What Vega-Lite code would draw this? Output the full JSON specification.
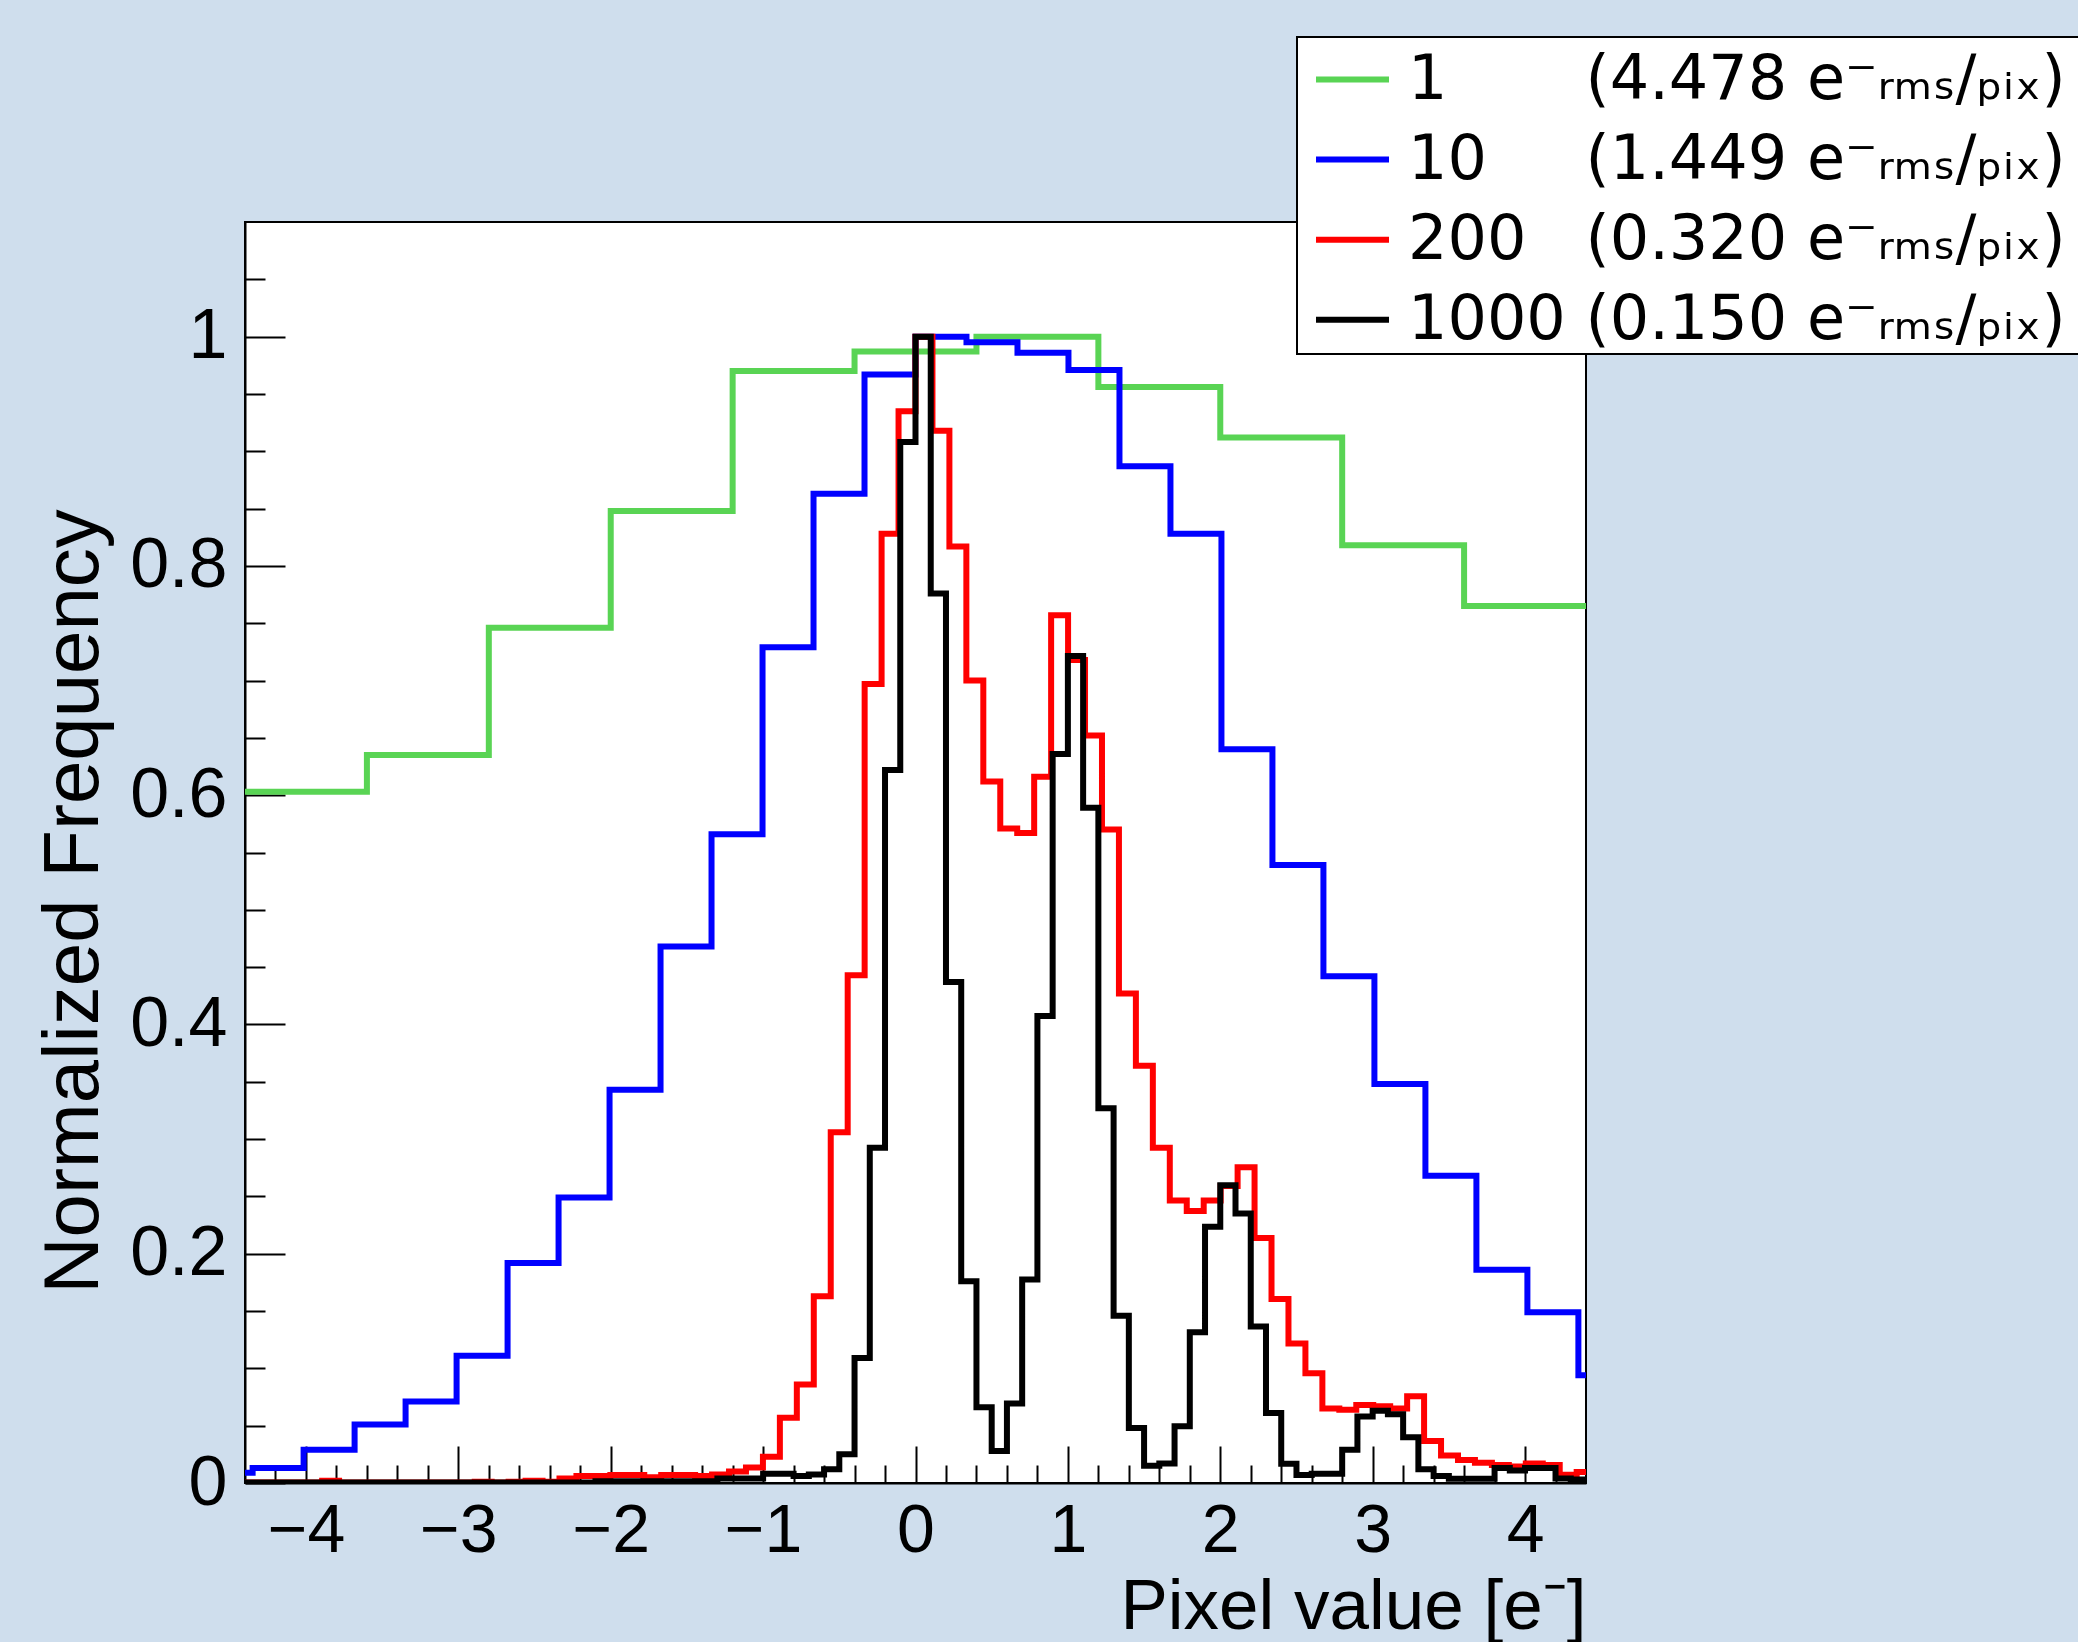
{
  "$schema": "https://vega.github.io/schema/vega-lite/v6.json",
  "width": 1341,
  "height": 1261,
  "autosize": {"type": "none"},
  "padding": {"left": 245, "top": 222, "right": 492, "bottom": 159},
  "background": "#cfdeed",
  "config": {
    "view": {"fill": "white", "stroke": "black", "strokeWidth": 2},
    "axis": {"grid": false, "domainColor": "black", "domainWidth": 2, "tickColor": "black", "tickWidth": 2, "labelColor": "black", "titleColor": "black", "labelFont": "Liberation Sans", "titleFont": "Liberation Sans", "titleFontWeight": "normal", "labelFlush": false, "labelOverlap": false}
  },
  "datasets": {
    "coarse": [
      {"s":"1","x":-4.4,"y":0.603},{"s":"1","x":-3.6,"y":0.635},{"s":"1","x":-2.8,"y":0.746},{"s":"1","x":-2.0,"y":0.848},{"s":"1","x":-1.2,"y":0.970},{"s":"1","x":-0.4,"y":0.987},{"s":"1","x":0.4,"y":1.0},{"s":"1","x":1.2,"y":0.956},{"s":"1","x":2.0,"y":0.912},{"s":"1","x":2.8,"y":0.818},{"s":"1","x":3.6,"y":0.765},{"s":"1","x":4.4,"y":0.765},
      {"s":"10","x":-4.6846,"y":0.009},{"s":"10","x":-4.35,"y":0.013},{"s":"10","x":-4.0154,"y":0.029},{"s":"10","x":-3.6808,"y":0.051},{"s":"10","x":-3.3462,"y":0.071},{"s":"10","x":-3.0115,"y":0.111},{"s":"10","x":-2.6769,"y":0.192},{"s":"10","x":-2.3423,"y":0.249},{"s":"10","x":-2.0077,"y":0.343},{"s":"10","x":-1.6731,"y":0.468},{"s":"10","x":-1.3385,"y":0.566},{"s":"10","x":-1.0038,"y":0.729},{"s":"10","x":-0.6692,"y":0.863},{"s":"10","x":-0.3346,"y":0.967},{"s":"10","x":0.0,"y":1.0},{"s":"10","x":0.3346,"y":0.995},{"s":"10","x":0.6692,"y":0.986},{"s":"10","x":1.0038,"y":0.971},{"s":"10","x":1.3385,"y":0.887},{"s":"10","x":1.6731,"y":0.828},{"s":"10","x":2.0077,"y":0.640},{"s":"10","x":2.3423,"y":0.539},{"s":"10","x":2.6769,"y":0.442},{"s":"10","x":3.0115,"y":0.348},{"s":"10","x":3.3462,"y":0.268},{"s":"10","x":3.6808,"y":0.186},{"s":"10","x":4.0154,"y":0.149},{"s":"10","x":4.35,"y":0.094},{"s":"10","x":4.6846,"y":0.094}
    ],
    "fine": [
      {"s":"200","x":-4.45,"y":0.0005},{"s":"200","x":-4.33875,"y":0.0005},{"s":"200","x":-4.2275,"y":0.0005},{"s":"200","x":-4.11625,"y":0.0005},{"s":"200","x":-4.005,"y":0.0005},{"s":"200","x":-3.89375,"y":0.002},{"s":"200","x":-3.7825,"y":0.0005},{"s":"200","x":-3.67125,"y":0.0005},{"s":"200","x":-3.56,"y":0.0005},{"s":"200","x":-3.44875,"y":0.0005},{"s":"200","x":-3.3375,"y":0.0005},{"s":"200","x":-3.22625,"y":0.0005},{"s":"200","x":-3.115,"y":0.0005},{"s":"200","x":-3.00375,"y":0.0005},{"s":"200","x":-2.8925,"y":0.001},{"s":"200","x":-2.78125,"y":0.0005},{"s":"200","x":-2.67,"y":0.001},{"s":"200","x":-2.55875,"y":0.002},{"s":"200","x":-2.4475,"y":0.001},{"s":"200","x":-2.33625,"y":0.004},{"s":"200","x":-2.225,"y":0.006},{"s":"200","x":-2.11375,"y":0.006},{"s":"200","x":-2.0025,"y":0.007},{"s":"200","x":-1.89125,"y":0.007},{"s":"200","x":-1.78,"y":0.005},{"s":"200","x":-1.66875,"y":0.007},{"s":"200","x":-1.5575,"y":0.007},{"s":"200","x":-1.44625,"y":0.006},{"s":"200","x":-1.335,"y":0.0075},{"s":"200","x":-1.22375,"y":0.010},{"s":"200","x":-1.1125,"y":0.0135},{"s":"200","x":-1.00125,"y":0.023},{"s":"200","x":-0.89,"y":0.057},{"s":"200","x":-0.77875,"y":0.086},{"s":"200","x":-0.6675,"y":0.163},{"s":"200","x":-0.55625,"y":0.306},{"s":"200","x":-0.445,"y":0.443},{"s":"200","x":-0.33375,"y":0.697},{"s":"200","x":-0.2225,"y":0.828},{"s":"200","x":-0.11125,"y":0.935},{"s":"200","x":0.0,"y":1.0},{"s":"200","x":0.11125,"y":0.918},{"s":"200","x":0.2225,"y":0.817},{"s":"200","x":0.33375,"y":0.700},{"s":"200","x":0.445,"y":0.612},{"s":"200","x":0.55625,"y":0.571},{"s":"200","x":0.6675,"y":0.567},{"s":"200","x":0.77875,"y":0.616},{"s":"200","x":0.89,"y":0.757},{"s":"200","x":1.00125,"y":0.718},{"s":"200","x":1.1125,"y":0.652},{"s":"200","x":1.22375,"y":0.570},{"s":"200","x":1.335,"y":0.427},{"s":"200","x":1.44625,"y":0.364},{"s":"200","x":1.5575,"y":0.2925},{"s":"200","x":1.66875,"y":0.2465},{"s":"200","x":1.78,"y":0.2373},{"s":"200","x":1.89125,"y":0.2465},{"s":"200","x":2.0025,"y":0.259},{"s":"200","x":2.11375,"y":0.2754},{"s":"200","x":2.225,"y":0.2137},{"s":"200","x":2.33625,"y":0.1606},{"s":"200","x":2.4475,"y":0.1217},{"s":"200","x":2.55875,"y":0.0958},{"s":"200","x":2.67,"y":0.065},{"s":"200","x":2.78125,"y":0.064},{"s":"200","x":2.8925,"y":0.068},{"s":"200","x":3.00375,"y":0.067},{"s":"200","x":3.115,"y":0.065},{"s":"200","x":3.22625,"y":0.0756},{"s":"200","x":3.3375,"y":0.0366},{"s":"200","x":3.44875,"y":0.024},{"s":"200","x":3.56,"y":0.020},{"s":"200","x":3.67125,"y":0.0176},{"s":"200","x":3.7825,"y":0.0157},{"s":"200","x":3.89375,"y":0.0145},{"s":"200","x":4.005,"y":0.017},{"s":"200","x":4.11625,"y":0.0157},{"s":"200","x":4.2275,"y":0.0072},{"s":"200","x":4.33875,"y":0.0095},{"s":"200","x":4.45,"y":0.0095},
      {"s":"1000","x":-4.4,"y":0.0005},{"s":"1000","x":-4.3,"y":0.0005},{"s":"1000","x":-4.2,"y":0.0005},{"s":"1000","x":-4.1,"y":0.0005},{"s":"1000","x":-4.0,"y":0.0005},{"s":"1000","x":-3.9,"y":0.0005},{"s":"1000","x":-3.8,"y":0.0005},{"s":"1000","x":-3.7,"y":0.0005},{"s":"1000","x":-3.6,"y":0.0005},{"s":"1000","x":-3.5,"y":0.0005},{"s":"1000","x":-3.4,"y":0.0005},{"s":"1000","x":-3.3,"y":0.0005},{"s":"1000","x":-3.2,"y":0.0005},{"s":"1000","x":-3.1,"y":0.0005},{"s":"1000","x":-3.0,"y":0.0005},{"s":"1000","x":-2.9,"y":0.0005},{"s":"1000","x":-2.8,"y":0.0005},{"s":"1000","x":-2.7,"y":0.0005},{"s":"1000","x":-2.6,"y":0.0005},{"s":"1000","x":-2.5,"y":0.0005},{"s":"1000","x":-2.4,"y":0.0005},{"s":"1000","x":-2.3,"y":0.0005},{"s":"1000","x":-2.2,"y":0.0005},{"s":"1000","x":-2.1,"y":0.0015},{"s":"1000","x":-2.0,"y":0.0015},{"s":"1000","x":-1.9,"y":0.0015},{"s":"1000","x":-1.8,"y":0.0015},{"s":"1000","x":-1.7,"y":0.0015},{"s":"1000","x":-1.6,"y":0.0015},{"s":"1000","x":-1.5,"y":0.0015},{"s":"1000","x":-1.4,"y":0.0015},{"s":"1000","x":-1.3,"y":0.004},{"s":"1000","x":-1.2,"y":0.004},{"s":"1000","x":-1.1,"y":0.004},{"s":"1000","x":-1.0,"y":0.008},{"s":"1000","x":-0.9,"y":0.008},{"s":"1000","x":-0.8,"y":0.006},{"s":"1000","x":-0.7,"y":0.0074},{"s":"1000","x":-0.6,"y":0.012},{"s":"1000","x":-0.5,"y":0.025},{"s":"1000","x":-0.4,"y":0.109},{"s":"1000","x":-0.3,"y":0.2925},{"s":"1000","x":-0.2,"y":0.622},{"s":"1000","x":-0.1,"y":0.908},{"s":"1000","x":0.0,"y":1.0},{"s":"1000","x":0.1,"y":0.776},{"s":"1000","x":0.2,"y":0.437},{"s":"1000","x":0.3,"y":0.176},{"s":"1000","x":0.4,"y":0.066},{"s":"1000","x":0.5,"y":0.028},{"s":"1000","x":0.6,"y":0.0693},{"s":"1000","x":0.7,"y":0.1776},{"s":"1000","x":0.8,"y":0.4074},{"s":"1000","x":0.9,"y":0.636},{"s":"1000","x":1.0,"y":0.7215},{"s":"1000","x":1.1,"y":0.589},{"s":"1000","x":1.2,"y":0.327},{"s":"1000","x":1.3,"y":0.146},{"s":"1000","x":1.4,"y":0.048},{"s":"1000","x":1.5,"y":0.015},{"s":"1000","x":1.6,"y":0.017},{"s":"1000","x":1.7,"y":0.0496},{"s":"1000","x":1.8,"y":0.1316},{"s":"1000","x":1.9,"y":0.2236},{"s":"1000","x":2.0,"y":0.2597},{"s":"1000","x":2.1,"y":0.2351},{"s":"1000","x":2.2,"y":0.1366},{"s":"1000","x":2.3,"y":0.0611},{"s":"1000","x":2.4,"y":0.0168},{"s":"1000","x":2.5,"y":0.007},{"s":"1000","x":2.6,"y":0.008},{"s":"1000","x":2.7,"y":0.008},{"s":"1000","x":2.8,"y":0.029},{"s":"1000","x":2.9,"y":0.058},{"s":"1000","x":3.0,"y":0.063},{"s":"1000","x":3.1,"y":0.060},{"s":"1000","x":3.2,"y":0.040},{"s":"1000","x":3.3,"y":0.012},{"s":"1000","x":3.4,"y":0.006},{"s":"1000","x":3.5,"y":0.0036},{"s":"1000","x":3.6,"y":0.0036},{"s":"1000","x":3.7,"y":0.0036},{"s":"1000","x":3.8,"y":0.013},{"s":"1000","x":3.9,"y":0.011},{"s":"1000","x":4.0,"y":0.013},{"s":"1000","x":4.1,"y":0.013},{"s":"1000","x":4.2,"y":0.004},{"s":"1000","x":4.3,"y":0.003},{"s":"1000","x":4.4,"y":0.003}
    ]
  },
  "layer": [
    {
      "data": {"name": "coarse"},
      "mark": {"type": "line", "interpolate": "step-after", "strokeWidth": 6, "clip": true, "strokeJoin": "miter"},
      "encoding": {
        "x": {"field": "x", "type": "quantitative", "scale": {"domain": [-4.4, 4.4], "nice": false, "zero": false},
          "axis": {"orient": "bottom", "values": [-4,-3,-2,-1,0,1,2,3,4], "format": "d", "tickSize": -37, "labelFontSize": 68, "labelPadding": 51, "labelBaseline": "top",
            "title": "Pixel value [e\u207b]", "titleFontSize": 71, "titleAnchor": "end", "titleAlign": "right", "titleX": 1341, "titleY": 145, "titleBaseline": "alphabetic"}},
        "y": {"field": "y", "type": "quantitative", "scale": {"domain": [0, 1.1], "nice": false},
          "axis": {"orient": "left", "values": [0,0.2,0.4,0.6,0.8,1], "format": ".1~f", "tickSize": -40, "labelFontSize": 70, "labelPadding": 58,
            "title": "Normalized Frequency", "titleFontSize": 78, "titleAngle": -90, "titleX": -148, "titleY": 679, "titleAlign": "center", "titleBaseline": "alphabetic"}},
        "color": {"field": "s", "type": "nominal",
          "scale": {"domain": ["1","10","200","1000"], "range": ["#59d454","#0000ff","#ff0000","#000000"]},
          "legend": {"orient": "none", "legendX": 1052, "legendY": -185, "title": null, "padding": 3, "fillColor": "white", "strokeColor": "black",
            "symbolType": "stroke", "symbolSize": 5329, "symbolStrokeWidth": 6, "symbolOffset": 13,
            "labelFont": "DejaVu Sans", "labelFontSize": 62, "labelColor": "black", "labelOffset": 16, "labelLimit": 2000, "rowPadding": 9.1,
            "encode": {"legend": {"update": {"strokeWidth": {"value": 2}}}},
            "labelExpr": "datum.label == '1' ? '1\u2007\u2007\u2007\u00a0(4.478 e\u207b\u1d63\u2098\u209b/\u209a\u1d62\u2093)\u2800' : datum.label == '10' ? '10\u2007\u2007\u00a0(1.449 e\u207b\u1d63\u2098\u209b/\u209a\u1d62\u2093)\u2800' : datum.label == '200' ? '200\u2007\u00a0(0.320 e\u207b\u1d63\u2098\u209b/\u209a\u1d62\u2093)\u2800' : '1000\u00a0(0.150 e\u207b\u1d63\u2098\u209b/\u209a\u1d62\u2093)\u2800'"}}
      }
    },
    {
      "data": {"name": "fine"},
      "mark": {"type": "line", "interpolate": "step-after", "strokeWidth": 6, "clip": true, "strokeJoin": "miter"},
      "encoding": {
        "x": {"field": "x", "type": "quantitative", "scale": {"domain": [-4.4, 4.4], "nice": false, "zero": false},
          "axis": {"orient": "bottom", "values": [-4.2,-3.8,-3.6,-3.4,-3.2,-2.8,-2.6,-2.4,-2.2,-1.8,-1.6,-1.4,-1.2,-0.8,-0.6,-0.4,-0.2,0.2,0.4,0.6,0.8,1.2,1.4,1.6,1.8,2.2,2.4,2.6,2.8,3.2,3.4,3.6,3.8,4.2], "tickSize": -18, "labels": false, "domain": false, "title": null}},
        "y": {"field": "y", "type": "quantitative", "scale": {"domain": [0, 1.1], "nice": false},
          "axis": {"orient": "left", "values": [0.05,0.1,0.15,0.25,0.3,0.35,0.45,0.5,0.55,0.65,0.7,0.75,0.85,0.9,0.95,1.05], "tickSize": -20, "labels": false, "domain": false, "title": null}},
        "color": {"field": "s", "type": "nominal",
          "scale": {"domain": ["1","10","200","1000"], "range": ["#59d454","#0000ff","#ff0000","#000000"]},
          "legend": {"orient": "none", "legendX": 1052, "legendY": -185, "title": null, "padding": 3, "fillColor": "white", "strokeColor": "black",
            "symbolType": "stroke", "symbolSize": 5329, "symbolStrokeWidth": 6, "symbolOffset": 13,
            "labelFont": "DejaVu Sans", "labelFontSize": 62, "labelColor": "black", "labelOffset": 16, "labelLimit": 2000, "rowPadding": 9.1,
            "encode": {"legend": {"update": {"strokeWidth": {"value": 2}}}},
            "labelExpr": "datum.label == '1' ? '1\u2007\u2007\u2007\u00a0(4.478 e\u207b\u1d63\u2098\u209b/\u209a\u1d62\u2093)\u2800' : datum.label == '10' ? '10\u2007\u2007\u00a0(1.449 e\u207b\u1d63\u2098\u209b/\u209a\u1d62\u2093)\u2800' : datum.label == '200' ? '200\u2007\u00a0(0.320 e\u207b\u1d63\u2098\u209b/\u209a\u1d62\u2093)\u2800' : '1000\u00a0(0.150 e\u207b\u1d63\u2098\u209b/\u209a\u1d62\u2093)\u2800'"}}
      }
    }
  ],
  "resolve": {"axis": {"x": "independent", "y": "independent"}}
}
